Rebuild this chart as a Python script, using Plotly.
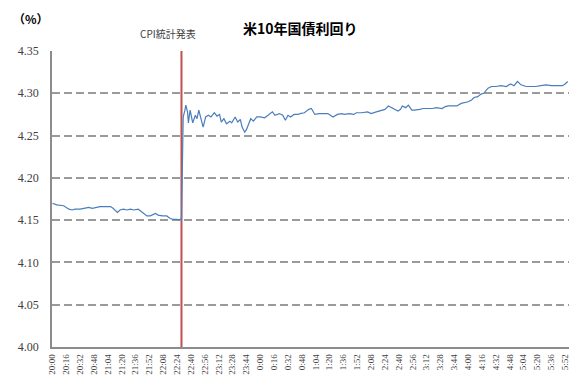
import plotly.graph_objects as go

# minutes elapsed since 20:00 (JST) and 10-year US Treasury yield (%)
minutes = [0, 5, 13, 19, 23, 26, 32, 38, 42, 46, 55, 61, 67, 70, 75, 78, 82, 86, 90, 94,
           99, 103, 109, 113, 119, 122, 127, 132, 136, 139, 144, 146, 148, 149,
           151, 153, 154, 156, 157, 159, 162, 165, 167, 169, 172, 174, 177, 180, 183, 187,
           190, 193, 195, 198, 201, 205, 207, 211, 214, 217, 219, 222, 224, 227, 229, 232,
           236, 240, 245, 249, 254, 257, 262, 266, 269, 272, 275, 279, 284, 286, 291, 296,
           299, 303, 308, 313, 318, 324, 329, 334, 337, 343, 348, 351, 357, 364, 368, 374,
           380, 384, 388, 393, 399, 402, 404, 408, 411, 415, 418, 424, 428, 434, 439, 443,
           450, 453, 457, 461, 467, 472, 476, 480, 484, 487, 491, 495, 498, 501, 503, 507,
           512, 518, 524, 529, 533, 537, 541, 547, 553, 558, 564, 570, 576, 583, 589, 592, 595]
yields = [4.170, 4.168, 4.167, 4.163, 4.162, 4.163, 4.163, 4.164, 4.165, 4.164, 4.166, 4.166,
          4.166, 4.164, 4.159, 4.162, 4.163, 4.162, 4.163, 4.162, 4.163, 4.160, 4.155, 4.155,
          4.158, 4.156, 4.155, 4.155, 4.152, 4.151, 4.151, 4.150, 4.151, 4.150,
          4.272, 4.280, 4.286, 4.278, 4.265, 4.280, 4.265, 4.274, 4.270, 4.280, 4.268, 4.260,
          4.272, 4.274, 4.272, 4.277, 4.273, 4.275, 4.266, 4.270, 4.264, 4.267, 4.265, 4.272,
          4.266, 4.269, 4.260, 4.254, 4.257, 4.265, 4.270, 4.267, 4.272, 4.272, 4.271, 4.274,
          4.278, 4.274, 4.276, 4.274, 4.268, 4.274, 4.272, 4.275, 4.275, 4.276, 4.277, 4.281,
          4.282, 4.275, 4.276, 4.276, 4.276, 4.272, 4.275, 4.276, 4.275, 4.276, 4.275, 4.277,
          4.277, 4.278, 4.276, 4.278, 4.280, 4.281, 4.285, 4.282, 4.279, 4.281, 4.285, 4.283,
          4.286, 4.280, 4.280, 4.281, 4.282, 4.282, 4.282, 4.283, 4.282, 4.284, 4.285, 4.285,
          4.285, 4.288, 4.289, 4.290, 4.292, 4.295, 4.296, 4.299, 4.300, 4.304, 4.306, 4.308,
          4.308, 4.309, 4.308, 4.311, 4.309, 4.314, 4.310, 4.308, 4.308, 4.308, 4.309, 4.310,
          4.309, 4.309, 4.309, 4.311, 4.314]

tick_minutes = list(range(0, 593, 16))
tick_labels = ["20:00", "20:16", "20:32", "20:48", "21:04", "21:20", "21:36", "21:52",
               "22:08", "22:24", "22:40", "22:56", "23:12", "23:28", "23:44", "0:00",
               "0:16", "0:32", "0:48", "1:04", "1:20", "1:36", "1:52", "2:08", "2:24",
               "2:40", "2:56", "3:12", "3:28", "3:44", "4:00", "4:16", "4:32", "4:48",
               "5:04", "5:20", "5:36", "5:52"]
y_ticks = [4.00, 4.05, 4.10, 4.15, 4.20, 4.25, 4.30, 4.35]
y_labels = ["4.00", "4.05", "4.10", "4.15", "4.20", "4.25", "4.30", "4.35"]

cpi_minute = 149
cpi_label = "CPI統計発表"
title_text = "米10年国債利回り"
unit_text = "（%）"

serif = "Liberation Serif, Noto Sans CJK JP, serif"
jp = "Noto Sans CJK JP, sans-serif"

W, H = 576, 376
ML, MR, MT, MB = 52, 7, 51, 29
PW, PH = W - ML - MR, H - MT - MB


def px_x(px):
    return (px - ML) / PW


def px_y(py):
    return (H - MB - py) / PH


fig = go.Figure()
fig.add_trace(go.Scatter(x=[cpi_minute, cpi_minute], y=[y_ticks[0], y_ticks[-1]],
                         mode="lines", line=dict(color="#C0504D", width=2),
                         hoverinfo="skip", showlegend=False))
fig.add_trace(go.Scatter(x=minutes, y=yields, mode="lines",
                         line=dict(color="#4A7EBB", width=1.2), showlegend=False))

fig.update_layout(
    width=W, height=H,
    margin=dict(l=ML, r=MR, t=MT, b=MB),
    paper_bgcolor="white", plot_bgcolor="white",
    xaxis=dict(range=[-0.5, 596.5], tickmode="array", tickvals=tick_minutes,
               ticktext=tick_labels, tickangle=-90, showgrid=False, zeroline=False,
               showline=True, linecolor="#8C8C8C", linewidth=1.5, automargin=False,
               ticklabelstandoff=2,
               tickfont=dict(family=serif, size=9, color="#404040"), ticks=""),
    yaxis=dict(range=[4.0, 4.35], tickmode="array", tickvals=y_ticks, ticktext=y_labels,
               showgrid=True, gridcolor="#9A9A9A", gridwidth=1.5, griddash="8px,4px",
               zeroline=False, showline=True, linecolor="#8C8C8C", linewidth=1.5,
               ticks="", ticklabelstandoff=9, automargin=False,
               tickfont=dict(family=serif, size=12, color="#404040")),
    annotations=[
        dict(text=title_text, x=px_x(300), xref="paper", y=px_y(28), yref="paper",
             xanchor="center", yanchor="middle", showarrow=False,
             font=dict(family=jp, size=14, color="#000000", weight="bold")),
        dict(text=cpi_label, x=cpi_minute - 15, xref="x", y=px_y(33), yref="paper",
             yanchor="middle", xanchor="center", showarrow=False,
             font=dict(family=jp, size=10, color="#404040")),
        dict(text=unit_text, x=px_x(31), xref="paper", y=px_y(18), yref="paper",
             xanchor="center", yanchor="middle", showarrow=False,
             font=dict(family=jp, size=12, color="#000000", weight="bold")),
    ],
)

fig.write_html("out.html")
